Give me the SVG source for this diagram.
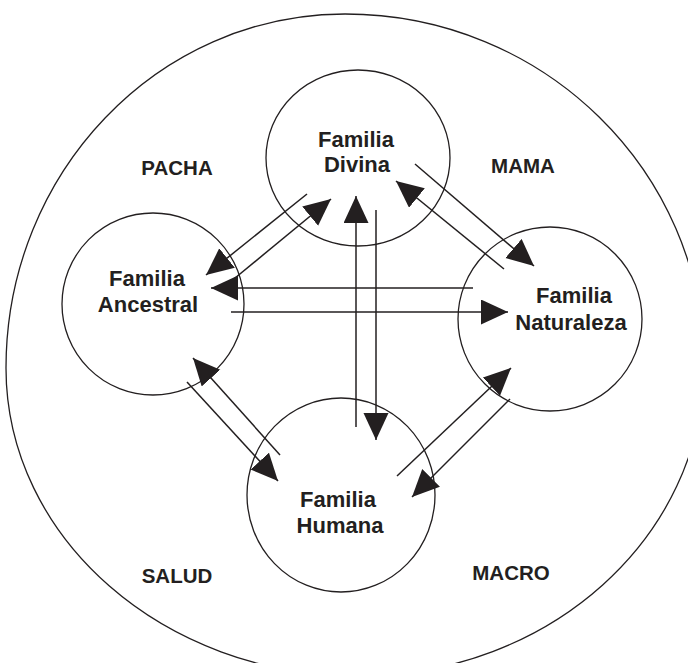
<svg xmlns="http://www.w3.org/2000/svg" width="688" height="663" viewBox="0 0 688 663">
  <style>
    .ring { fill: none; stroke: #231f20; stroke-width: 1.3; }
    .link { fill: none; stroke: #231f20; stroke-width: 1.5; marker-end: url(#head); }
    .label { font-family: "Liberation Sans", Arial, sans-serif; font-weight: bold; font-size: 22px; fill: #231f20; text-anchor: middle; }
    .region { font-family: "Liberation Sans", Arial, sans-serif; font-weight: bold; font-size: 20.5px; fill: #231f20; text-anchor: middle; }
  </style>
  <defs>
    <marker id="head" markerUnits="userSpaceOnUse" markerWidth="28" markerHeight="26" refX="27" refY="12.5" orient="auto">
      <path d="M0,0 L27,12.5 L0,25 Z" fill="#231f20"/>
    </marker>
  </defs>
  <rect width="688" height="663" fill="#ffffff"/>

  <!-- outer boundary -->
  <g id="outer">
    <path class="ring" d="M345,14 C543.3,14 704,171.1 704,365 C704,536.8 549.1,676 358,676 C163.6,676 6,538.1 6,368 C6,172.5 157.8,14 345,14 Z"/>
  </g>

  <!-- region labels -->
  <g id="regions">
    <text class="region" x="177" y="175">PACHA</text>
    <text class="region" x="523" y="173">MAMA</text>
    <text class="region" x="177" y="583">SALUD</text>
    <text class="region" x="511" y="580">MACRO</text>
  </g>

  <g id="divina">
    <ellipse class="ring" cx="358" cy="158" rx="92" ry="88"/>
    <text class="label" x="356" y="147">Familia</text>
    <text class="label" x="357" y="172">Divina</text>
  </g>

  <g id="ancestral">
    <circle class="ring" cx="153" cy="304" r="91"/>
    <text class="label" x="147" y="286">Familia</text>
    <text class="label" x="148" y="312">Ancestral</text>
  </g>

  <g id="naturaleza">
    <circle class="ring" cx="550" cy="319" r="92"/>
    <text class="label" x="574" y="303">Familia</text>
    <text class="label" x="571" y="330">Naturaleza</text>
  </g>

  <g id="humana">
    <ellipse class="ring" cx="341" cy="495" rx="94" ry="97"/>
    <text class="label" x="338" y="507">Familia</text>
    <text class="label" x="340" y="533">Humana</text>
  </g>

  <!-- connectors -->
  <g id="connectors">
    <line class="link" x1="307" y1="194" x2="206" y2="275"/>
    <line class="link" x1="229" y1="283" x2="331" y2="199"/>
    <line class="link" x1="415" y1="164" x2="534" y2="266"/>
    <line class="link" x1="504" y1="269" x2="396" y2="181"/>
    <line class="link" x1="280" y1="455" x2="193" y2="358"/>
    <line class="link" x1="187" y1="382" x2="278" y2="481"/>
    <line class="link" x1="397" y1="476" x2="511" y2="368"/>
    <line class="link" x1="510" y1="399" x2="412" y2="497"/>
    <line class="link" x1="356" y1="427" x2="356" y2="196"/>
    <line class="link" x1="376" y1="210" x2="376" y2="440"/>
    <line class="link" x1="473" y1="288" x2="211" y2="288"/>
    <line class="link" x1="231" y1="312" x2="508" y2="312"/>
  </g>
</svg>
